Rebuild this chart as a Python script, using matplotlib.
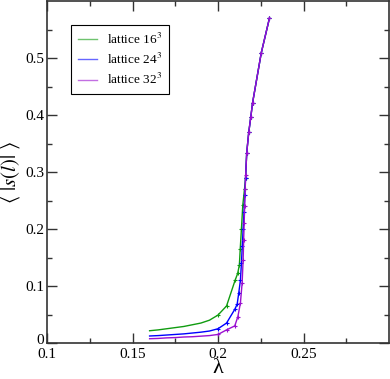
import matplotlib
matplotlib.use("Agg")
import matplotlib.pyplot as plt
from matplotlib.transforms import ScaledTranslation

# lattice 16^3
lam16 = [0.16, 0.165, 0.17, 0.175, 0.18, 0.185, 0.19, 0.195, 0.2, 0.205, 0.21, 0.2115,
         0.2125, 0.213, 0.2137, 0.2145, 0.2155, 0.2161, 0.2168, 0.218, 0.2192, 0.2202,
         0.2253, 0.2301]
s16 = [0.0215, 0.023, 0.025, 0.027, 0.029, 0.032, 0.035, 0.040, 0.049, 0.065, 0.110,
       0.122, 0.137, 0.165, 0.200, 0.242, 0.270, 0.289, 0.334, 0.370, 0.397, 0.421,
       0.509, 0.570]

# lattice 24^3
lam24 = [0.16, 0.165, 0.17, 0.175, 0.18, 0.185, 0.19, 0.195, 0.2, 0.205, 0.2098, 0.2112,
         0.2121, 0.2131, 0.2137, 0.2142, 0.2147, 0.2152, 0.2157, 0.2161, 0.2168, 0.218,
         0.2192, 0.2202, 0.2253, 0.2301]
s24 = [0.0123, 0.013, 0.014, 0.015, 0.016, 0.0175, 0.019, 0.021, 0.025, 0.035, 0.059,
       0.068, 0.087, 0.110, 0.140, 0.170, 0.200, 0.230, 0.260, 0.289, 0.334, 0.370,
       0.397, 0.421, 0.509, 0.570]

# lattice 32^3
lam32 = [0.16, 0.165, 0.17, 0.175, 0.18, 0.185, 0.19, 0.195, 0.2, 0.205, 0.2098, 0.2116,
         0.2131, 0.2141, 0.2147, 0.2150, 0.2153, 0.2156, 0.2159, 0.2162, 0.2168, 0.218,
         0.2192, 0.2202, 0.2253, 0.2301]
s32 = [0.0075, 0.008, 0.009, 0.0095, 0.0105, 0.011, 0.012, 0.013, 0.015, 0.023, 0.030,
       0.046, 0.070, 0.105, 0.146, 0.180, 0.210, 0.240, 0.270, 0.295, 0.334, 0.370,
       0.397, 0.421, 0.509, 0.570]

series = [
    (lam16, s16, "#109c10", r"lattice 16$^3$"),
    (lam24, s24, "#0000ff", r"lattice 24$^3$"),
    (lam32, s32, "#9a10d0", r"lattice 32$^3$"),
]

xticks = [0.1, 0.15, 0.2, 0.25]
xtick_labels = ["0.1", "0.15", "0.2", "0.25"]
yticks = [0, 0.1, 0.2, 0.3, 0.4, 0.5]
ytick_labels = ["0", "0.1", "0.2", "0.3", "0.4", "0.5"]

plt.rcParams['font.family'] = ['Liberation Serif', 'DejaVu Serif']
plt.rcParams['mathtext.fontset'] = 'stix'

fig = plt.figure(figsize=(3.9, 3.79), dpi=100)
ax = fig.add_axes([47/390, 36/379, 342/390, 342/379])

for lam, s, col, lab in series:
    # markers only where the points sit close together (error bars in the original)
    marks = [l >= 0.2 for l in lam]
    ax.plot(lam, s, color=col, lw=1.0, marker="+", ms=3, mew=0.8,
            markevery=marks, label=lab)

ax.set_xlim(0.1, 0.3)
ax.set_ylim(0, 0.6)
ax.set_xticks(xticks)
ax.set_xticklabels(xtick_labels)
ax.set_yticks(yticks)
ax.set_yticklabels(ytick_labels)
ax.set_xticks([0.125, 0.175, 0.225, 0.275], minor=True)
ax.set_yticks([0.05, 0.15, 0.25, 0.35, 0.45, 0.55], minor=True)
ax.tick_params(which="both", direction="in", top=True, right=True, labelsize=11,
               color="#333333", width=1.0)
ax.tick_params(which="major", length=7, pad=2)
ax.tick_params(axis="x", which="major", pad=3.5)
ax.tick_params(which="minor", length=3.5)
for sp in ax.spines.values():
    sp.set_linewidth(1.2)
    sp.set_color("#333333")
# nudge the "0" up a little so it clears the x labels
zero = ax.get_yticklabels()[0]
zero.set_transform(zero.get_transform() + ScaledTranslation(0, 4/100, fig.dpi_scale_trans))

ax.set_xlabel("λ", fontsize=16, labelpad=-1)
ax.set_ylabel(r"$\langle\ |s(l)|\ \rangle$", fontsize=15, labelpad=2)

handles, labels = ax.get_legend_handles_labels()
leg_lines = [plt.Line2D([], [], color=h.get_color(), lw=1.0, alpha=0.6) for h in handles]
leg = ax.legend(leg_lines, labels, loc="upper left", bbox_to_anchor=(0.07, 0.93),
                fontsize=9.5, frameon=True, fancybox=False, edgecolor="black",
                framealpha=1, handlelength=1.5, handletextpad=0.75, borderpad=0.5,
                labelspacing=0.4, borderaxespad=0)
leg.get_frame().set_linewidth(0.8)

fig.savefig("out.png", dpi=100)
